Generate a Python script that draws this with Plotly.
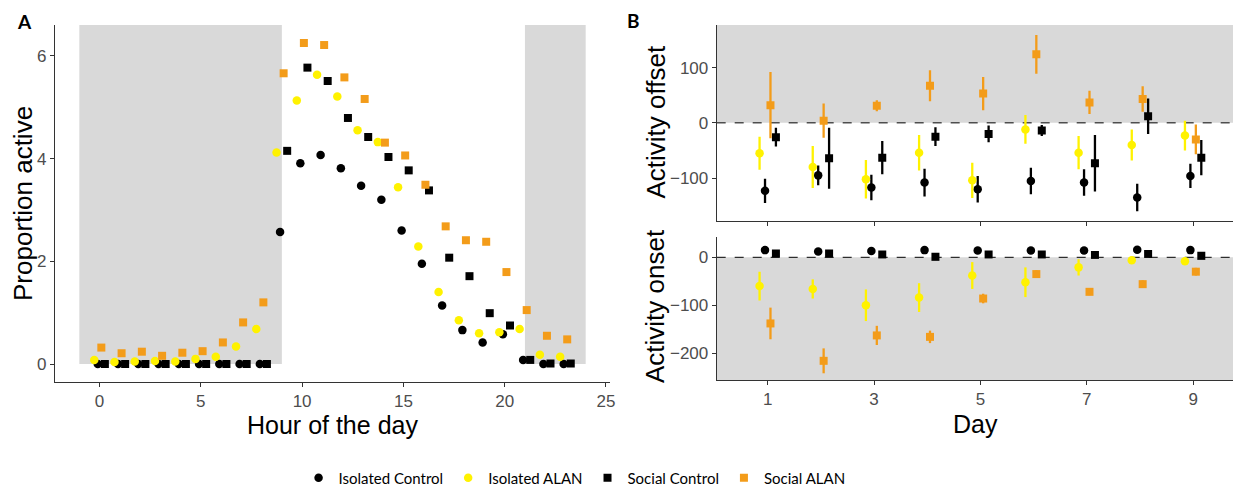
import plotly.graph_objects as go

# ---------------- data ----------------
hours = list(range(24))
iso_ctrl_a = [0, 0, 0, 0, 0, 0, 0, 0, 0, 2.57, 3.91, 4.07, 3.81, 3.47, 3.20, 2.60,
              1.95, 1.14, 0.66, 0.42, 0.58, 0.08, 0.0, 0.0]
iso_alan_a = [0.08, 0.04, 0.05, 0.06, 0.05, 0.10, 0.14, 0.34, 0.68, 4.12, 5.13, 5.63,
              5.21, 4.55, 4.32, 3.44, 2.29, 1.40, 0.85, 0.60, 0.62, 0.68, 0.18, 0.14]
soc_ctrl_a = [0, 0, 0, 0, 0, 0, 0, 0, 0, 4.15, 5.77, 5.51, 4.79, 4.42, 4.03, 3.77,
              3.38, 2.07, 1.71, 0.99, 0.75, 0.08, 0.01, 0.01]
soc_alan_a = [0.32, 0.21, 0.24, 0.16, 0.22, 0.25, 0.42, 0.81, 1.20, 5.66, 6.25, 6.21,
              5.58, 5.16, 4.31, 4.06, 3.49, 2.68, 2.41, 2.38, 1.79, 1.05, 0.55, 0.48]
night_periods = [(-1, 9), (21, 24)]

days = [1, 2, 3, 4, 5, 6, 7, 8, 9]
iso_ctrl_off = [-123, -95, -117, -108, -120, -105, -108, -135, -96]
iso_ctrl_off_err = [22, 18, 23, 25, 24, 24, 24, 25, 22]
iso_alan_off = [-55, -80, -102, -54, -104, -12, -54, -40, -23]
iso_alan_off_err = [30, 38, 35, 32, 32, 26, 30, 28, 27]
soc_ctrl_off = [-26, -64, -63, -25, -20, -14, -73, 12, -63]
soc_ctrl_off_err = [17, 55, 30, 17, 15, 10, 51, 32, 32]
soc_alan_off = [32, 4, 31, 67, 53, 124, 37, 43, -30]
soc_alan_off_err = [60, 31, 10, 28, 30, 35, 21, 23, 27]

iso_ctrl_on = [15, 12, 13, 15, 14, 14, 14, 16, 15]
iso_ctrl_on_err = [3, 3, 3, 3, 3, 3, 3, 3, 3]
iso_alan_on = [-60, -66, -100, -84, -38, -52, -21, -6, -8]
iso_alan_on_err = [30, 20, 33, 30, 28, 31, 17, 7, 8]
soc_ctrl_on = [8, 8, 6, 1, 6, 6, 5, 7, 3]
soc_ctrl_on_err = [3, 3, 3, 3, 3, 3, 3, 3, 3]
soc_alan_on = [-138, -216, -163, -166, -86, -35, -72, -56, -30]
soc_alan_on_err = [33, 26, 20, 13, 10, 8, 7, 8, 8]

# ---------------- styles ----------------
BLACK = "#000000"
YELLOW = "#FFF200"
ORANGE = "#F39C1A"
GRAY = "#D9D9D9"
FONT = "Liberation Sans"
LEGFONT = "Lato"

# name, symbol, colour, panelA, offset, offset_err, onset, onset_err, dodge slot
series = [
    ("Isolated Control", "circle", BLACK, iso_ctrl_a, iso_ctrl_off, iso_ctrl_off_err, iso_ctrl_on, iso_ctrl_on_err, -1),
    ("Isolated ALAN", "circle", YELLOW, iso_alan_a, iso_alan_off, iso_alan_off_err, iso_alan_on, iso_alan_on_err, -3),
    ("Social Control", "square", BLACK, soc_ctrl_a, soc_ctrl_off, soc_ctrl_off_err, soc_ctrl_on, soc_ctrl_on_err, 3),
    ("Social ALAN", "square", ORANGE, soc_alan_a, soc_alan_off, soc_alan_off_err, soc_alan_on, soc_alan_on_err, 1),
]

dodge_a = 0.7 / 8
dodge_b = 0.41 / 8

fig = go.Figure()

for name, sym, col, ya, yoff, eoff, yon, eon, slot in series:
    msize = 8.5 if sym == "circle" else 8
    fig.add_trace(go.Scatter(
        x=[h + slot * dodge_a for h in hours], y=ya, mode="markers", name=name,
        legendgroup=name, showlegend=True,
        marker=dict(symbol=sym, color=col, size=msize, line=dict(width=0)),
        xaxis="x", yaxis="y"))
    fig.add_trace(go.Scatter(
        x=[d + slot * dodge_b for d in days], y=yoff, mode="markers", name=name,
        legendgroup=name, showlegend=False,
        marker=dict(symbol=sym, color=col, size=msize, line=dict(width=0)),
        error_y=dict(type="data", array=eoff, color=col, thickness=2.3, width=0),
        xaxis="x2", yaxis="y2"))
    fig.add_trace(go.Scatter(
        x=[d + slot * dodge_b for d in days], y=yon, mode="markers", name=name,
        legendgroup=name, showlegend=False,
        marker=dict(symbol=sym, color=col, size=msize, line=dict(width=0)),
        error_y=dict(type="data", array=eon, color=col, thickness=2.3, width=0),
        xaxis="x3", yaxis="y3"))

# ---------------- layout ----------------
W, H = 1233, 488

def px_x(p):
    return p / W

def px_y(p):
    return 1 - p / H

A_RANGE_Y = [-0.35, 6.6]
B_OFF_RANGE = [-177, 177]
B_ON_RANGE = [-256, 43]

shapes = []
for x0, x1 in night_periods:
    shapes.append(dict(type="rect", xref="x", yref="y", x0=x0, x1=x1, y0=0, y1=A_RANGE_Y[1],
                       fillcolor=GRAY, line=dict(width=0), layer="below"))
shapes.append(dict(type="rect", xref="x2 domain", yref="y2", x0=0, x1=1, y0=0, y1=B_OFF_RANGE[1],
                   fillcolor=GRAY, line=dict(width=0), layer="below"))
shapes.append(dict(type="rect", xref="x3 domain", yref="y3", x0=0, x1=1, y0=B_ON_RANGE[0], y1=0,
                   fillcolor=GRAY, line=dict(width=0), layer="below"))
for yr, xr in (("y2", "x2 domain"), ("y3", "x3 domain")):
    shapes.append(dict(type="line", xref=xr, yref=yr, x0=0, x1=1, y0=0, y1=0,
                       line=dict(color="#000000", width=1, dash="dash"), layer="below"))

axis_common = dict(showline=True, linecolor="#333333", linewidth=1.1, ticks="outside",
                   ticklen=4, tickcolor="#333333", tickwidth=1,
                   tickfont=dict(family=FONT, size=17, color="#4D4D4D"),
                   showgrid=False, zeroline=False, mirror=False, automargin=False)

fig.update_layout(
    width=W, height=H, margin=dict(l=0, r=0, t=0, b=0, autoexpand=False),
    plot_bgcolor="white", paper_bgcolor="white",
    shapes=shapes,
    xaxis=dict(domain=[px_x(55), px_x(610)], range=[-2.2, 25.2], anchor="y",
               tickvals=[0, 5, 10, 15, 20, 25], **axis_common),
    yaxis=dict(domain=[px_y(382), px_y(25)], range=A_RANGE_Y, anchor="x",
               tickvals=[0, 2, 4, 6], **axis_common),
    xaxis2=dict(domain=[px_x(716.7), 1.0], range=[0.04, 9.75], anchor="y2",
                tickvals=days[::2], showticklabels=False, **axis_common),
    yaxis2=dict(domain=[px_y(220.7), px_y(25)], range=B_OFF_RANGE, anchor="x2",
                tickvals=[-100, 0, 100], **axis_common),
    xaxis3=dict(domain=[px_x(716.7), 1.0], range=[0.04, 9.75], anchor="y3",
                tickvals=days[::2], matches="x2", **axis_common),
    yaxis3=dict(domain=[px_y(380), px_y(236.7)], range=B_ON_RANGE, anchor="x3",
                tickvals=[-200, -100, 0], **axis_common),
    legend=dict(orientation="h", x=0.466, xanchor="center", y=px_y(478), yanchor="middle",
                font=dict(family=LEGFONT, size=15, color="#000000"),
                itemwidth=30, tracegroupgap=0, bgcolor="rgba(0,0,0,0)"),
    showlegend=True,
)

title_font = dict(family=FONT, size=26, color="#000000")
xtitle_font = dict(family=FONT, size=25, color="#000000")
annotations = [
    dict(text="Proportion active", x=px_x(23), y=px_y(204), textangle=-90, font=title_font),
    dict(text="Hour of the day", x=px_x(332.5), y=px_y(425), font=xtitle_font),
    dict(text="Activity offset", x=px_x(655), y=px_y(122.5), textangle=-90, font=title_font),
    dict(text="Activity onset", x=px_x(655), y=px_y(306), textangle=-90, font=title_font),
    dict(text="Day", x=px_x(975), y=px_y(424), font=xtitle_font),
    dict(text="<b>A</b>", x=px_x(25), y=px_y(21), font=dict(family=LEGFONT, size=19, color="#000000")),
    dict(text="<b>B</b>", x=px_x(633), y=px_y(20), font=dict(family=LEGFONT, size=19, color="#000000")),
]
for a in annotations:
    a.update(xref="paper", yref="paper", showarrow=False, xanchor="center", yanchor="middle")
fig.update_layout(annotations=annotations)

fig.write_html("out.html")
